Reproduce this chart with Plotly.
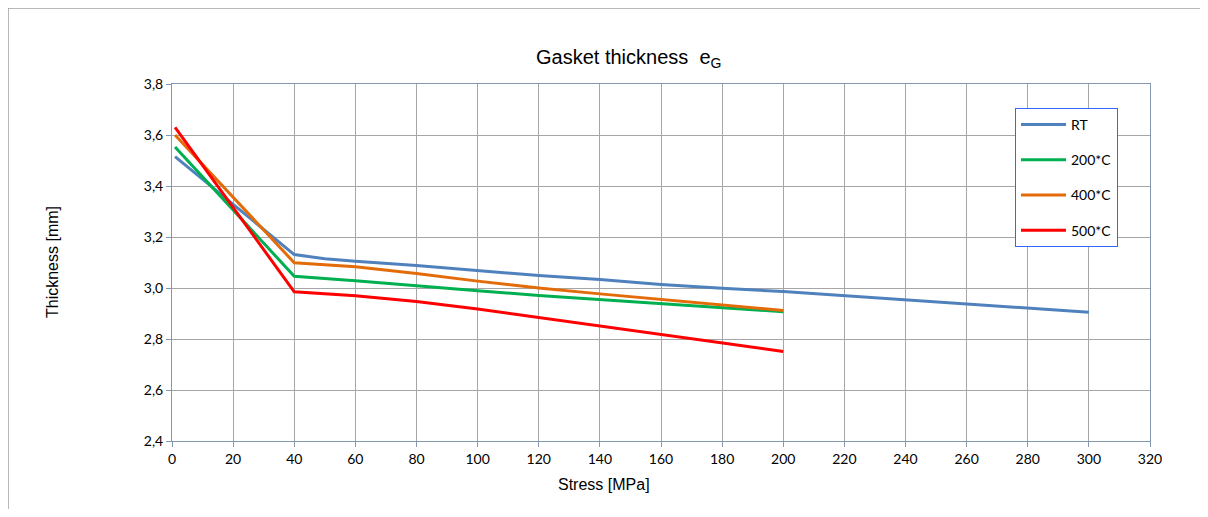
import plotly.graph_objects as go

stress_rt = [1, 40, 50, 60, 80, 100, 120, 140, 160, 180, 200, 300]
thick_rt = [3.515, 3.131, 3.115, 3.105, 3.088, 3.067, 3.049, 3.033, 3.014, 2.999, 2.986, 2.905]

stress_hot = [1, 40, 60, 80, 100, 120, 140, 160, 180, 200]
thick_200 = [3.553, 3.046, 3.028, 3.008, 2.989, 2.971, 2.955, 2.939, 2.923, 2.907]
thick_400 = [3.600, 3.099, 3.083, 3.057, 3.027, 3.000, 2.977, 2.955, 2.934, 2.912]
thick_500 = [3.630, 2.985, 2.970, 2.947, 2.918, 2.885, 2.850, 2.816, 2.783, 2.751]

series = [
    ("RT", stress_rt, thick_rt, "#4F81BD"),
    ("200*C", stress_hot, thick_200, "#00B050"),
    ("400*C", stress_hot, thick_400, "#E36C09"),
    ("500*C", stress_hot, thick_500, "#FF0000"),
]

x_ticks = list(range(0, 321, 20))
y_ticks = [2.4, 2.6, 2.8, 3.0, 3.2, 3.4, 3.6, 3.8]

fig = go.Figure()
for i, (name, xs, ys, col) in enumerate(series):
    fig.add_trace(go.Scatter(x=xs, y=ys, mode="lines", name=name,
                             legendgroup=f"g{i}",
                             line=dict(color=col, width=3)))

# page offset (browser body margin)
OFF = 8
W, H = 1208 - 2 * OFF, 517 - 2 * OFF
# plot area in page pixels
PL, PR, PT, PB = 172, 1150, 84, 441
L = PL - OFF
T = PT - OFF
R = W - (PR - OFF)
B = H - (PB - OFF)
pw, ph = PR - PL, PB - PT

def px(x):
    return (x - PL) / pw

def py(y):
    return (PB - y) / ph

axis_line = "#8497B0"
grid = "#A6A6A6"
tick_font = dict(family="Lato, Open Sans, sans-serif", size=14, color="#000000")

fig.update_layout(
    width=W, height=H,
    margin=dict(l=L, r=R, t=T, b=B, pad=0),
    paper_bgcolor="white", plot_bgcolor="white",
    separators=",.",
    showlegend=True,
    legend=dict(x=px(1015), y=py(108), xanchor="left", yanchor="top",
                bordercolor="#3366FF", borderwidth=1, bgcolor="white",
                font=dict(family="Lato, Open Sans, sans-serif", size=14, color="#000"),
                tracegroupgap=14, traceorder="grouped", itemwidth=45),
    xaxis=dict(range=[0, 320], tickvals=x_ticks, showgrid=True, gridcolor=grid,
               gridwidth=1, showline=True, linecolor=axis_line, linewidth=1,
               mirror=True, ticks="outside", ticklen=5, tickcolor=axis_line,
               tickfont=tick_font, zeroline=False),
    yaxis=dict(range=[2.4, 3.8], tickvals=y_ticks, tickformat=".1f",
               showgrid=True, gridcolor=grid, gridwidth=1, showline=True,
               linecolor=axis_line, linewidth=1, mirror=True, ticks="outside",
               ticklen=5, tickcolor=axis_line, tickfont=tick_font, zeroline=False),
    annotations=[
        dict(text="Gasket thickness  e<sub>G</sub>", x=px(628), y=py(44),
             xref="paper", yref="paper", showarrow=False,
             font=dict(family="Liberation Sans, Arial", size=20, color="#000")),
        dict(text="Thickness [mm]", x=px(42), y=0.5, xref="paper", yref="paper",
             showarrow=False, textangle=-90,
             font=dict(family="Liberation Sans, Arial", size=16, color="#000")),
        dict(text="Stress [MPa]", x=px(604), y=py(495), xref="paper", yref="paper",
             showarrow=False,
             font=dict(family="Liberation Sans, Arial", size=16, color="#000")),
    ],
    shapes=[
        dict(type="line", xref="paper", yref="paper", x0=px(8), x1=px(8),
             y0=py(8), y1=py(525), line=dict(color="#A0A0A0", width=1.5)),
        dict(type="line", xref="paper", yref="paper", x0=px(8), x1=px(1215),
             y0=py(8), y1=py(8), line=dict(color="#A0A0A0", width=1.5)),
    ],
)

fig.write_html("out.html")
